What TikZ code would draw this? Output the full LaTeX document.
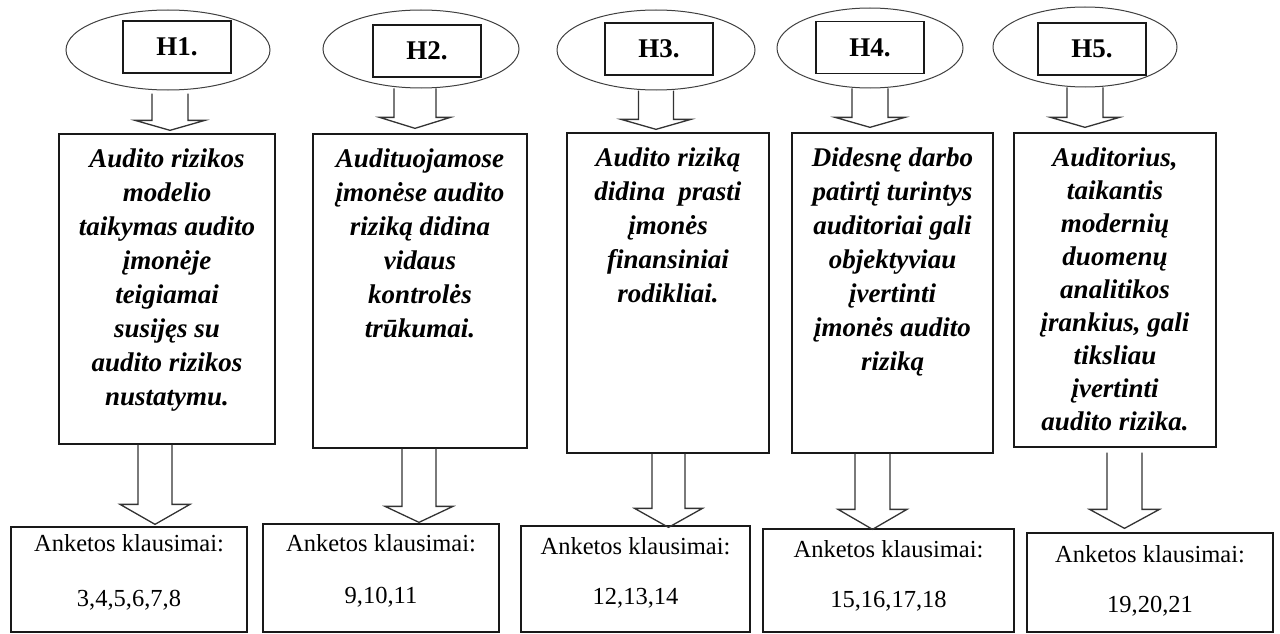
\documentclass[tikz,border=0pt]{standalone}
\usepackage{fontspec}
\setmainfont{Liberation Serif}
\usetikzlibrary{shapes.geometric,calc}
\newcommand\blockarr[5]{%
  \draw[blk] let \p1=(#1), \p2=(#2) in
    (\x1-#3pt,\y1) -- (\x1-#3pt,\y2+#5pt) -- (\x1-#4pt,\y2+#5pt) -- (\x1,\y2)
    -- (\x1+#4pt,\y2+#5pt) -- (\x1+#3pt,\y2+#5pt) -- (\x1+#3pt,\y1);}
\begin{document}
\begin{tikzpicture}[x=1pt,y=-1pt,
  ell/.style={ellipse, draw=black!75, line width=1pt, inner sep=0pt},
  hbox/.style={draw=black!90, line width=1.2pt, inner sep=0pt, minimum width=108pt, minimum height=52pt,
               font=\fontsize{27}{32}\selectfont\bfseries},
  midbox/.style={draw=black!90, line width=1.3pt, inner sep=0pt},
  midtext/.style={anchor=north, inner sep=0pt, align=center, font=\fontsize{27}{34}\selectfont\bfseries\itshape},
  botbox/.style={draw=black!90, line width=1.3pt, inner sep=0pt},
  bottext/.style={anchor=base, inner sep=0pt, font=\fontsize{24.5}{30}\selectfont},
  blk/.style={draw=black!80, line width=1.3pt, line join=miter}
]
\useasboundingbox[fill=white] (0,0) rectangle (1280,634);

% ellipses and hypothesis labels
\node[ell, minimum width=204pt, minimum height=80pt] (e1) at (168,50) {};
\node[ell, minimum width=196pt, minimum height=78pt] (e2) at (421,49) {};
\node[ell, minimum width=198pt, minimum height=80pt] (e3) at (656,50) {};
\node[ell, minimum width=186pt, minimum height=80pt] (e4) at (870,48) {};
\node[ell, minimum width=184pt, minimum height=80pt] (e5) at (1085,47) {};

\node[hbox] (h1) at (177,47) {H1.};
\node[hbox] (h2) at (427,51) {H2.};
\node[hbox] (h3) at (659,49) {H3.};
\node[hbox] (h4) at (870,47.5) {H4.};
\node[hbox] (h5) at (1092,49) {H5.};

% middle boxes
\node[midbox, minimum width=216pt, minimum height=310pt] (m1) at (167,289) {};
\node[midbox, minimum width=214pt, minimum height=314pt] (m2) at (420,291) {};
\node[midbox, minimum width=202pt, minimum height=320pt] (m3) at (668,293) {};
\node[midbox, minimum width=201pt, minimum height=320pt] (m4) at (892.5,293) {};
\node[midbox, minimum width=202pt, minimum height=314pt] (m5) at (1115,290) {};

\node[midtext] (mt1) at ([yshift=-15pt]m1.north) {Audito rizikos\\modelio\\taikymas audito\\įmonėje\\teigiamai\\susijęs su\\audito rizikos\\nustatymu.};
\node[midtext] (mt2) at ([yshift=-15pt]m2.north) {Audituojamose\\įmonėse audito\\riziką didina\\vidaus\\kontrolės\\trūkumai.};
\node[midtext] (mt3) at ([yshift=-15pt]m3.north) {Audito riziką\\didina\ \ prasti\\įmonės\\finansiniai\\rodikliai.};
\node[midtext] (mt4) at ([yshift=-15pt]m4.north) {Didesnę darbo\\patirtį turintys\\auditoriai gali\\objektyviau\\įvertinti\\įmonės audito\\riziką};
\node[midtext, font=\fontsize{27}{33}\selectfont\bfseries\itshape] (mt5) at ([yshift=-15pt]m5.north) {Auditorius,\\taikantis\\modernių\\duomenų\\analitikos\\įrankius, gali\\tiksliau\\įvertinti\\audito rizika.};

% bottom boxes
\node[botbox, minimum width=236pt, minimum height=105pt] (b1) at (129,579.5) {};
\node[botbox, minimum width=236pt, minimum height=108pt] (b2) at (381,578) {};
\node[botbox, minimum width=229pt, minimum height=106pt] (b3) at (635.5,579) {};
\node[botbox, minimum width=251pt, minimum height=103pt] (b4) at (888.5,580.5) {};
\node[botbox, minimum width=246pt, minimum height=99pt] (b5) at (1150,582.5) {};

\node[bottext] (q1) at ([yshift=-25pt]b1.north) {Anketos klausimai:};
\node[bottext] (n1) at ([yshift=-80pt]b1.north) {3,4,5,6,7,8};
\node[bottext] (q2) at ([yshift=-28pt]b2.north) {Anketos klausimai:};
\node[bottext] (n2) at ([yshift=-80pt]b2.north) {9,10,11};
\node[bottext] (q3) at ([yshift=-29pt]b3.north) {Anketos klausimai:};
\node[bottext] (n3) at ([yshift=-79pt]b3.north) {12,13,14};
\node[bottext] (q4) at ([yshift=-29pt]b4.north) {Anketos klausimai:};
\node[bottext] (n4) at ([yshift=-79pt]b4.north) {15,16,17,18};
\node[bottext] (q5) at ([yshift=-30pt]b5.north) {Anketos klausimai:};
\node[bottext] (n5) at ([yshift=-80pt]b5.north) {19,20,21};

% top block arrows
\blockarr{[xshift=2pt,yshift=-3pt]e1.south}{[yshift=3pt]m1.north}{18}{35}{10}
\blockarr{[xshift=-6pt]e2.south}{[yshift=5pt]m2.north}{21}{35.5}{11}
\blockarr{e3.south}{[yshift=3pt]m3.north}{17.5}{35}{10}
\blockarr{e4.south}{[yshift=5pt]m4.north}{18}{35}{10}
\blockarr{e5.south}{[yshift=5pt]m5.north}{18}{34.5}{10}

% bottom block arrows
\blockarr{[xshift=-12pt]m1.south}{[yshift=2pt]b1.north}{17}{35}{20}
\blockarr{[xshift=-1pt]m2.south}{[yshift=1pt]b2.north}{17}{34}{16}
\blockarr{[xshift=0.5pt]m3.south}{[yshift=-2pt]b3.north}{16.5}{34}{19}
\blockarr{[xshift=-20pt]m4.south}{[yshift=-1pt]b4.north}{17.5}{34.5}{20}
\blockarr{[xshift=9.5pt,yshift=-5pt]m5.south}{[yshift=4pt]b5.north}{17.5}{35}{19}
\end{tikzpicture}
\end{document}
